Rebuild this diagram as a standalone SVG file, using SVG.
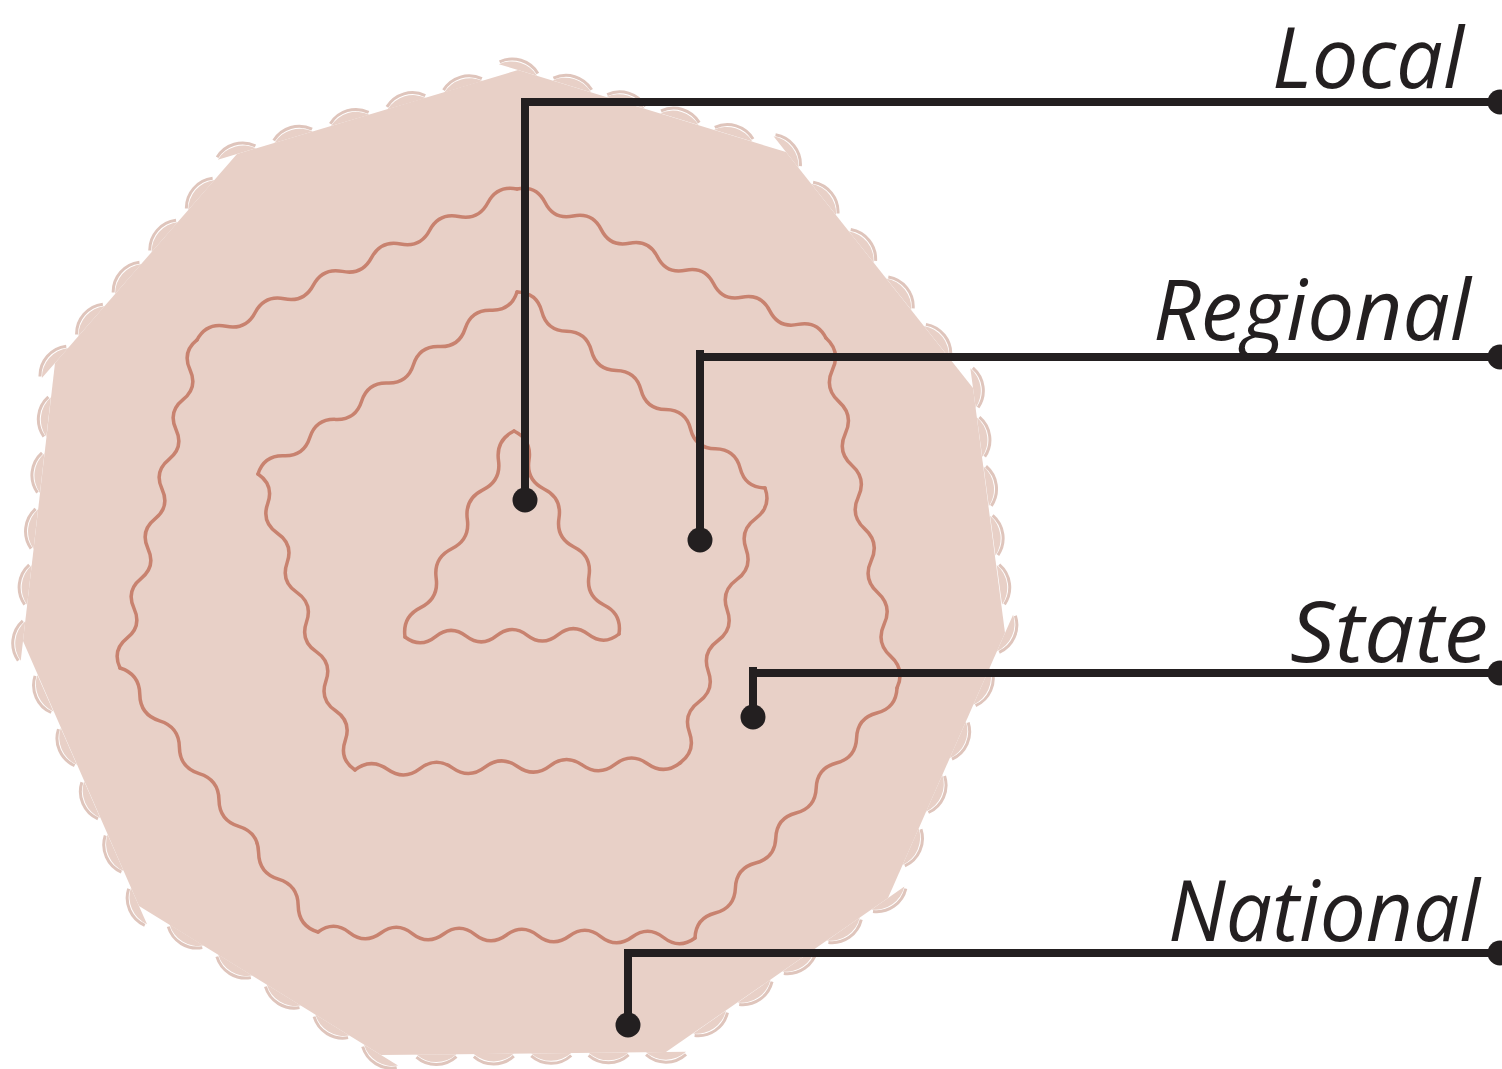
<svg xmlns="http://www.w3.org/2000/svg" width="1502" height="1069" viewBox="0 0 1502 1069">
  <style>
    .blob{fill:#e8d0c7}
    .bump-fill{fill:#e8d0c7;stroke:none}
    .bump-rim{fill:none;stroke:#dfc5bc;stroke-width:3}
    .wave{fill:none;stroke:#c8826f;stroke-width:3.5;stroke-linecap:round;stroke-linejoin:round}
    .lead{fill:none;stroke:#231f20;stroke-width:8}
    .dot{fill:#231f20}
    .label{font-family:"Open Sans","Noto Sans","DejaVu Sans",sans-serif;font-style:italic;font-size:85px;fill:#231f20}
  </style>

  <defs>
    <!-- one row of rim bumps per side, in side-local coordinates (x along the side, -y outward) -->
    <path id="s0" d="M-20,0 a30,30 0 0 1 40,0 m16.24,0 a30,30 0 0 1 40,0 m16.24,0 a30,30 0 0 1 40,0 m16.24,0 a30,30 0 0 1 40,0 m16.24,0 a30,30 0 0 1 40,0"/>
    <path id="s1" d="M-20,0 a30,30 0 0 1 40,0 m20.5,0 a30,30 0 0 1 40,0 m20.5,0 a30,30 0 0 1 40,0 m20.5,0 a30,30 0 0 1 40,0 m20.5,0 a30,30 0 0 1 40,0"/>
    <path id="s2" d="M-20,0 a30,30 0 0 1 40,0 m9.64,0 a30,30 0 0 1 40,0 m9.64,0 a30,30 0 0 1 40,0 m9.64,0 a30,30 0 0 1 40,0 m9.64,0 a30,30 0 0 1 40,0"/>
    <path id="s3" d="M-20,0 a30,30 0 0 1 40,0 m18.38,0 a30,30 0 0 1 40,0 m18.38,0 a30,30 0 0 1 40,0 m18.38,0 a30,30 0 0 1 40,0 m18.38,0 a30,30 0 0 1 40,0"/>
    <path id="s4" d="M-20,0 a30,30 0 0 1 40,0 m14.32,0 a30,30 0 0 1 40,0 m14.32,0 a30,30 0 0 1 40,0 m14.32,0 a30,30 0 0 1 40,0 m14.32,0 a30,30 0 0 1 40,0"/>
    <path id="s5" d="M-20,0 a30,30 0 0 1 40,0 m17.4,0 a30,30 0 0 1 40,0 m17.4,0 a30,30 0 0 1 40,0 m17.4,0 a30,30 0 0 1 40,0 m17.4,0 a30,30 0 0 1 40,0"/>
    <path id="s6" d="M-20,0 a30,30 0 0 1 40,0 m17.12,0 a30,30 0 0 1 40,0 m17.12,0 a30,30 0 0 1 40,0 m17.12,0 a30,30 0 0 1 40,0 m17.12,0 a30,30 0 0 1 40,0"/>
    <path id="s7" d="M-20,0 a30,30 0 0 1 40,0 m18.12,0 a30,30 0 0 1 40,0 m18.12,0 a30,30 0 0 1 40,0 m18.12,0 a30,30 0 0 1 40,0 m18.12,0 a30,30 0 0 1 40,0"/>
    <path id="s8" d="M-20,0 a30,30 0 0 1 40,0 m16.36,0 a30,30 0 0 1 40,0 m16.36,0 a30,30 0 0 1 40,0 m16.36,0 a30,30 0 0 1 40,0 m16.36,0 a30,30 0 0 1 40,0"/>
    <path id="s9" d="M-20,0 a30,30 0 0 1 40,0 m15.7,0 a30,30 0 0 1 40,0 m15.7,0 a30,30 0 0 1 40,0 m15.7,0 a30,30 0 0 1 40,0 m15.7,0 a30,30 0 0 1 40,0"/>
    <path id="s10" d="M-20,0 a30,30 0 0 1 40,0 m19.04,0 a30,30 0 0 1 40,0 m19.04,0 a30,30 0 0 1 40,0 m19.04,0 a30,30 0 0 1 40,0 m19.04,0 a30,30 0 0 1 40,0"/>
  </defs>

  <!-- territory: eleven-sided area with scalloped rim -->
  <g id="territory">
    <polygon class="blob" points="518,70 786,152 973,388 1005,633 888,898 666,1052 381,1055 139,906 23,641 55,363 237,154"/>
    <g transform="translate(518,70) rotate(16.95)"><use href="#s0" class="bump-fill"/><use href="#s0" class="bump-rim" transform="translate(0,-2.5)"/></g>
    <g transform="translate(786,152) rotate(51.58)"><use href="#s1" class="bump-fill"/><use href="#s1" class="bump-rim" transform="translate(0,-2.5)"/></g>
    <g transform="translate(973,388) rotate(82.36)"><use href="#s2" class="bump-fill"/><use href="#s2" class="bump-rim" transform="translate(0,-2.5)"/></g>
    <g transform="translate(1005,633) rotate(113.84)"><use href="#s3" class="bump-fill"/><use href="#s3" class="bump-rim" transform="translate(0,-2.5)"/></g>
    <g transform="translate(888,898) rotate(145.19)"><use href="#s4" class="bump-fill"/><use href="#s4" class="bump-rim" transform="translate(0,-2.5)"/></g>
    <g transform="translate(666,1052) rotate(179.4)"><use href="#s5" class="bump-fill"/><use href="#s5" class="bump-rim" transform="translate(0,-2.5)"/></g>
    <g transform="translate(381,1055) rotate(-148.31)"><use href="#s6" class="bump-fill"/><use href="#s6" class="bump-rim" transform="translate(0,-2.5)"/></g>
    <g transform="translate(139,906) rotate(-113.74)"><use href="#s7" class="bump-fill"/><use href="#s7" class="bump-rim" transform="translate(0,-2.5)"/></g>
    <g transform="translate(23,641) rotate(-83.48)"><use href="#s8" class="bump-fill"/><use href="#s8" class="bump-rim" transform="translate(0,-2.5)"/></g>
    <g transform="translate(55,363) rotate(-48.93)"><use href="#s9" class="bump-fill"/><use href="#s9" class="bump-rim" transform="translate(0,-2.5)"/></g>
    <g transform="translate(237,154) rotate(-16.53)"><use href="#s10" class="bump-fill"/><use href="#s10" class="bump-rim" transform="translate(0,-2.5)"/></g>
  </g>

  <!-- wavy boundary rings, one side per path -->
  <g id="ring-outer" class="wave">
    <path transform="translate(517,189) rotate(25.74)" d="M0,0 q15.59,-12 31.18,0 t31.18,0 31.18,0 31.18,0 31.18,0 31.18,0 31.18,0 31.18,0 31.18,0 31.18,0 31.18,0"/>
    <path transform="translate(826,338) rotate(78.53)" d="M0,0 q16.23,-12 32.46,0 t32.46,0 32.46,0 32.46,0 32.46,0 32.46,0 32.46,0 32.46,0 32.46,0 32.46,0 32.46,0"/>
    <path transform="translate(897,688) rotate(128.94)" d="M0,0 q16.07,-12 32.14,0 t32.14,0 32.14,0 32.14,0 32.14,0 32.14,0 32.14,0 32.14,0 32.14,0 32.14,0"/>
    <path transform="translate(695,938) rotate(-179.09)" d="M0,0 q15.71,-12 31.42,0 t31.42,0 31.42,0 31.42,0 31.42,0 31.42,0 31.42,0 31.42,0 31.42,0 31.42,0 31.42,0 31.42,0"/>
    <path transform="translate(318,932) rotate(-126.87)" d="M0,0 q16.5,-12 33,0 t33,0 33,0 33,0 33,0 33,0 33,0 33,0 33,0 33,0"/>
    <path transform="translate(120,668) rotate(-76.79)" d="M0,0 q15.32,-12 30.63,0 t30.63,0 30.63,0 30.63,0 30.63,0 30.63,0 30.63,0 30.63,0 30.63,0 30.63,0 30.63,0"/>
    <path transform="translate(197,340) rotate(-25.26)" d="M0,0 q16.08,-12 32.16,0 t32.16,0 32.16,0 32.16,0 32.16,0 32.16,0 32.16,0 32.16,0 32.16,0 32.16,0 32.16,0"/>
  </g>
  <g id="ring-middle" class="wave">
    <path transform="translate(517,292) rotate(38.32)" d="M0,0 q15.8,-12 31.61,0 t31.61,0 31.61,0 31.61,0 31.61,0 31.61,0 31.61,0 31.61,0 31.61,0 31.61,0"/>
    <path transform="translate(765,488) rotate(107.18)" d="M0,0 q15.99,-12 31.98,0 t31.98,0 31.98,0 31.98,0 31.98,0 31.98,0 31.98,0 31.98,0 31.98,0"/>
    <path transform="translate(680,763) rotate(178.77)" d="M0,0 q16.25,-12 32.51,0 t32.51,0 32.51,0 32.51,0 32.51,0 32.51,0 32.51,0 32.51,0 32.51,0 32.51,0"/>
    <path transform="translate(355,770) rotate(-108.14)" d="M0,0 q15.58,-12 31.15,0 t31.15,0 31.15,0 31.15,0 31.15,0 31.15,0 31.15,0 31.15,0 31.15,0 31.15,0"/>
    <path transform="translate(258,474) rotate(-35.1)" d="M0,0 q15.83,-12 31.66,0 t31.66,0 31.66,0 31.66,0 31.66,0 31.66,0 31.66,0 31.66,0 31.66,0 31.66,0"/>
  </g>
  <g id="ring-inner" class="wave">
    <path transform="translate(514,431) rotate(62.65)" d="M0,0 q16.32,-12 32.64,0 t32.64,0 32.64,0 32.64,0 32.64,0 32.64,0 32.64,0"/>
    <path transform="translate(619,634) rotate(179.2)" d="M0,0 q15.29,-12 30.57,0 t30.57,0 30.57,0 30.57,0 30.57,0 30.57,0 30.57,0"/>
    <path transform="translate(405,637) rotate(-62.1)" d="M0,0 q16.65,-12 33.3,0 t33.3,0 33.3,0 33.3,0 33.3,0 33.3,0 33.3,0"/>
  </g>

  <!-- leader lines from each level's point to its label -->
  <g id="connectors" class="lead">
    <path d="M525,98 V500 M525,102 H1500"/>
    <path d="M700,350 V540 M700,357 H1500"/>
    <path d="M753,667 V717 M753,673 H1500"/>
    <path d="M628,949 V1025 M628,953 H1500"/>
  </g>

  <g id="local">
    <circle class="dot" cx="525" cy="500" r="12.5"/>
    <circle class="dot" cx="1500" cy="102" r="12.5"/>
    <text class="label" x="1272" y="88" textLength="192" lengthAdjust="spacingAndGlyphs">Local</text>
  </g>
  <g id="regional">
    <circle class="dot" cx="700" cy="540" r="12.5"/>
    <circle class="dot" cx="1500" cy="357" r="12.5"/>
    <text class="label" x="1153" y="340" textLength="318" lengthAdjust="spacingAndGlyphs">Regional</text>
  </g>
  <g id="state">
    <circle class="dot" cx="753" cy="717" r="12.5"/>
    <circle class="dot" cx="1500" cy="673" r="12.5"/>
    <text class="label" x="1290" y="662" textLength="198" lengthAdjust="spacingAndGlyphs">State</text>
  </g>
  <g id="national">
    <circle class="dot" cx="628" cy="1025" r="12.5"/>
    <circle class="dot" cx="1500" cy="953" r="12.5"/>
    <text class="label" x="1168" y="941" textLength="312" lengthAdjust="spacingAndGlyphs">National</text>
  </g>
</svg>
